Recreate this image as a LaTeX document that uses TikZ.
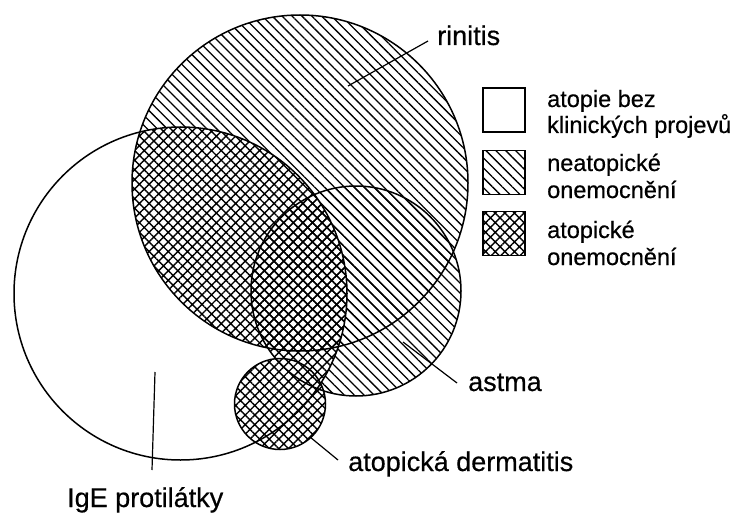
\documentclass[tikz,border=0pt]{standalone}
\usepackage{fontspec}
\setmainfont{Liberation Sans}[FakeBold=0.5]
\usetikzlibrary{patterns.meta}
\tikzset{
  hatchone/.style={pattern={Lines[angle=-45,distance=7pt,line width=1.3pt]},pattern color=black},
  hatchtwo/.style={pattern={Hatch[angle=45,distance=6.8pt,line width=1.4pt]},pattern color=black},
  outline/.style={draw=black,line width=1.5pt},
  leader/.style={draw=black,line width=1.2pt},
  lbl/.style={inner sep=0pt,anchor=base west,font=\fontsize{27}{30}\selectfont},
  leg/.style={inner sep=0pt,anchor=base west,font=\fontsize{23.5}{26}\selectfont},
  legbox/.style={draw=black,line width=1.5pt,minimum width=42pt,minimum height=44pt,inner sep=0pt}
}
\begin{document}
\begin{tikzpicture}[x=1pt,y=-1pt]
\useasboundingbox (0,0) rectangle (736,516);
% circle centres
\coordinate (cR) at (300,183);
\coordinate (cI) at (180.5,293.5);
\coordinate (cA) at (356,291);
\coordinate (cD) at (280,404);
% single hatch: rinitis and astma
\fill[hatchone] (cR) circle[radius=168];
\fill[hatchone] (cA) circle[radius=105];
% cross hatch inside IgE
\begin{scope}
  \clip (cI) circle[radius=166.5];
  \fill[white] (cR) circle[radius=168];
  \fill[white] (cA) circle[radius=105];
  \fill[hatchtwo] (cR) circle[radius=168];
  \fill[hatchtwo] (cA) circle[radius=105];
\end{scope}
\fill[white] (cD) circle[radius=45.5];
\fill[hatchtwo] (cD) circle[radius=45.5];
% outlines
\draw[outline] (cR) circle[radius=168];
\draw[outline] (cI) circle[radius=166.5];
\draw[outline] (cA) circle[radius=105];
\draw[outline] (cD) circle[radius=45.5];
% labels
\node[lbl] (rin) at (437,45) {rinitis};
\node[lbl] (ast) at (468,391) {astma};
\node[lbl] (der) at (348,471) {atopická dermatitis};
\node[lbl] (ige) at (67,507) {IgE protilátky};
% leaders
\coordinate (rinA) at (348,86); \coordinate (rinB) at (428,41);
\coordinate (astA) at (403,342); \coordinate (astB) at (457,383);
\coordinate (derA) at (310,437); \coordinate (derB) at (338,460);
\coordinate (igeA) at (155,372); \coordinate (igeB) at (152,470);
\draw[leader] (rinA) -- (rinB);
\draw[leader] (astA) -- (astB);
\draw[leader] (derA) -- (derB);
\draw[leader] (igeA) -- (igeB);
% legend
\node[legbox] (b1) at (504,110) {};
\node[legbox,hatchone] (b2) at (504,172.5) {};
\node[legbox,hatchtwo] (b3) at (504,233.5) {};
\node[leg] (t1a) at (547,107) {atopie bez};
\node[leg] (t1b) at (547,133) {klinických projevů};
\node[leg] (t2a) at (547,171) {neatopické};
\node[leg] (t2b) at (547,198) {onemocnění};
\node[leg] (t3a) at (547,238) {atopické};
\node[leg] (t3b) at (547,265) {onemocnění};
\end{tikzpicture}
\end{document}
